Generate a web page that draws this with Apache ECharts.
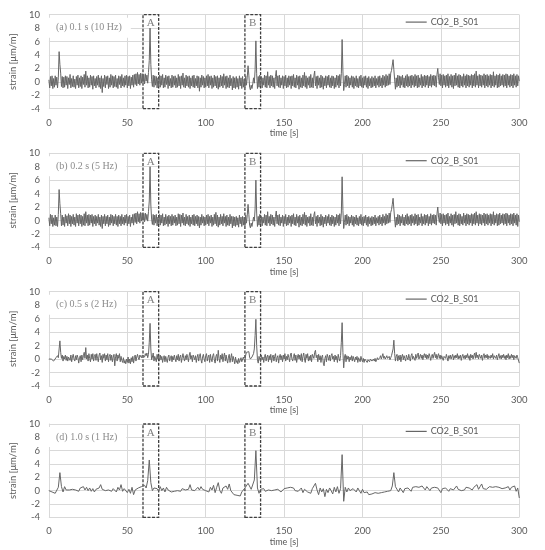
<!DOCTYPE html>
<html><head><meta charset="utf-8">
<script src="https://cdn.jsdelivr.net/npm/echarts@6/dist/echarts.min.js"></script>
<style>html,body{margin:0;padding:0;background:#fff}#c{width:545px;height:550px}</style>
</head><body><div id="c"></div>
<script>
const seriesName = 'CO2_B_S01';
const panelLabels = ['(a) 0.1 s (10 Hz)', '(b) 0.2 s (5 Hz)', '(c) 0.5 s (2 Hz)', '(d) 1.0 s (1 Hz)'];
const sampleStep = [0.5, 0.5, 0.5, 1];
const xMin = 0, xMax = 300, xInterval = 50;
const yMin = -4, yMax = 10, yInterval = 2;
const xName = 'time [s]';
const yName = 'strain [\u03bcm/m]';
const boxA = ['A', 60, 70];
const boxB = ['B', 125, 135];

// panel (a) values every 0.5 s
const strainA = [
0.3,-0.9,0.8,-0.6,0.9,-1.0,0.5,-0.8,0.9,-0.5,0.7,-0.9,0.6,4.5,2.6,1.3,-0.7,0.8,-0.9,0.7,
-0.8,0.9,-0.5,0.8,-1.0,0.6,-0.4,1.1,-0.9,0.5,-0.7,0.9,-0.8,0.4,-1.0,0.8,-0.5,1.0,-0.9,0.6,
-0.7,0.9,-1.0,0.7,-0.4,1.1,-0.8,1.6,-0.5,0.9,-0.9,0.6,-0.8,1.0,-0.5,0.8,-1.1,0.9,-0.6,0.5,
-0.9,0.8,-0.5,1.0,-0.8,0.6,-1.0,0.9,-1.6,0.5,-0.7,1.0,-0.9,0.8,-0.4,0.9,-1.0,0.6,-0.8,1.1,
-0.5,0.9,-0.9,0.8,-0.7,1.0,-0.8,0.5,-1.0,0.9,-0.4,0.8,-0.9,1.1,-0.6,0.6,-0.8,0.9,-0.5,1.0,
-0.9,0.8,-0.6,0.9,-1.0,0.7,-0.5,1.0,-0.8,1.1,-0.4,1.2,-0.6,1.4,-0.3,1.1,-0.5,1.3,-0.2,1.2,
-0.1,1.1,-0.3,1.2,0.1,1.0,-0.2,1.4,3.2,8.0,2.6,0.3,-0.7,1.0,-0.8,0.9,-0.5,0.8,-0.9,0.6,
-0.7,1.0,-0.8,0.9,-0.5,1.1,-0.9,0.6,-0.8,1.0,-0.4,0.8,-1.0,0.9,-0.6,0.5,-0.9,1.0,-0.8,0.8,
-0.5,0.9,-0.9,0.6,-0.8,1.1,-0.6,0.8,-1.0,0.9,-0.5,1.3,-0.8,0.6,-0.9,1.0,-0.6,0.8,-0.8,0.9,
-1.0,0.6,-0.6,0.9,-0.8,1.0,-0.9,0.5,-0.6,0.9,-0.9,0.8,-1.4,0.6,-0.8,1.0,-0.5,0.8,-0.9,0.6,
-0.8,0.9,-0.6,1.1,-0.9,0.8,-0.5,0.9,-1.0,0.6,-0.8,1.0,-0.6,0.8,-0.9,0.9,-1.1,0.6,-0.8,1.0,
-0.6,0.8,-0.9,1.2,-0.5,0.8,-1.0,0.9,-0.8,0.6,-0.9,1.0,-0.6,0.5,-1.2,0.8,-0.9,0.6,-1.0,0.8,
-0.8,0.5,-1.1,0.9,-0.6,0.6,-1.0,0.8,-0.8,0.4,-0.9,0.9,-0.5,0.7,2.4,1.0,-0.8,-1.2,-0.5,-1.0,
-0.3,0.6,-0.2,1.8,6.1,1.2,-1.0,0.8,-0.8,1.0,-0.6,0.8,-0.9,0.6,-0.5,1.0,-0.8,0.9,-0.9,1.5,
-0.5,0.8,-0.9,1.0,-0.6,0.9,-0.8,0.6,-1.0,0.8,1.7,-0.6,0.9,-0.8,1.0,-0.9,0.6,-0.5,0.9,-1.0,
0.8,-0.6,1.0,-0.9,0.6,-0.8,0.9,-0.5,0.8,-1.0,0.9,-0.6,1.1,-0.8,0.6,-0.9,1.0,-0.5,0.8,-1.1,
0.9,-0.8,0.6,-0.9,1.0,-0.6,1.4,-0.8,0.9,-1.0,0.6,-0.5,0.8,-0.9,1.1,-0.8,0.6,-0.9,0.9,1.6,
-0.6,0.8,-1.0,0.9,-0.5,0.6,-0.9,1.0,-0.8,0.8,-1.1,0.6,-0.6,0.9,-0.9,0.8,-0.5,1.0,-0.8,0.6,
-0.9,0.9,-0.6,0.8,-1.0,0.6,-0.8,1.0,-0.5,0.9,-0.9,1.1,-0.6,1.2,6.3,1.6,-1.3,-0.4,0.9,-0.8,
1.0,-0.6,0.8,-0.9,0.6,-0.5,0.9,-0.8,0.8,-1.0,0.6,-0.6,0.9,-0.8,0.5,-0.9,0.8,-0.6,1.0,-0.8,
0.6,-0.9,0.8,-0.5,0.9,-0.8,0.6,-1.0,0.8,-0.6,0.5,-0.9,0.8,-0.8,0.6,-0.6,0.9,-0.9,0.5,-0.5,
0.8,-0.8,0.9,-0.6,0.6,-0.9,1.0,-0.5,0.8,-0.8,1.1,-0.6,0.9,-0.5,1.2,-0.4,1.3,1.7,2.5,3.3,
1.8,0.3,-1.1,0.6,-0.8,1.0,-0.6,0.9,-0.9,0.8,-0.5,1.0,-0.8,0.6,-0.9,0.9,-0.6,1.1,-0.8,0.8,
-0.6,0.9,-0.9,1.0,-0.5,0.8,-0.8,1.1,-0.6,0.9,-0.9,1.0,-0.8,0.6,-0.5,1.1,-0.9,0.8,-0.6,1.0,
-0.8,0.9,-0.5,1.0,-0.9,0.8,-0.6,1.1,-0.8,0.9,-0.5,1.0,-0.6,0.9,-0.8,1.1,2.0,0.6,-0.4,1.2,
-0.6,1.0,-0.9,1.1,-0.5,0.9,-0.8,1.0,-0.6,1.2,-0.9,0.8,-0.5,1.1,-0.8,0.9,-1.0,1.0,-0.6,1.3,
-0.5,0.9,-0.8,1.1,-0.9,1.0,-0.6,0.8,-0.8,1.2,-0.5,0.9,-0.9,1.1,-0.6,1.0,-0.8,0.9,-0.5,1.1,
-0.9,1.0,-0.6,1.2,-0.8,1.6,-0.5,0.9,-0.9,1.1,-0.6,1.0,-0.8,0.9,-0.5,1.2,-0.9,1.0,-0.6,1.1,
-0.8,0.9,-0.5,1.1,-0.9,1.0,-0.6,1.5,-0.8,0.9,-0.5,1.1,-0.9,1.0,-0.8,1.2,-0.6,0.9,-0.5,1.1,
-0.8,1.0,-0.6,1.2,-0.9,1.1,-0.5,0.9,-0.8,1.1,-0.6,1.0,-0.9,1.2,-0.5,0.9,-0.8,1.1,-0.6,0.9,
0.1];

// panel (b) values every 0.5 s
const strainB = [
0.4,-0.8,0.9,-0.5,0.8,-0.9,0.4,-0.7,0.8,-0.8,0.5,-0.9,0.9,4.6,2.5,1.0,-0.8,0.8,-0.7,0.5,
-0.9,0.9,-0.4,0.7,-0.8,1.0,-0.5,0.8,-0.9,0.6,-0.5,0.9,-0.7,0.5,-0.9,1.0,-0.4,0.8,-0.8,0.9,
-0.5,0.8,-0.9,0.6,-0.7,1.0,-0.8,1.3,-0.4,0.8,-0.8,0.9,-0.7,0.8,-0.4,0.9,-0.9,0.6,-0.5,0.8,
-0.8,0.6,-0.4,0.9,-0.7,0.5,-0.9,0.8,-1.2,0.6,-0.5,0.9,-0.8,0.6,-0.5,0.8,-0.9,0.5,-0.7,0.9,
-0.4,0.8,-0.8,0.6,-0.5,0.9,-0.7,0.6,-0.9,0.8,-0.5,0.6,-0.8,0.9,-0.5,0.5,-0.7,0.8,-0.4,0.9,
-0.8,0.6,-0.5,0.8,-0.9,0.5,-0.4,0.9,-0.7,1.0,-0.3,1.1,-0.5,1.3,-0.2,1.0,-0.4,1.2,-0.1,1.1,
0.0,1.0,-0.2,1.1,0.1,0.9,-0.1,1.3,2.9,8.0,2.3,0.2,-0.6,0.9,-0.7,0.8,-0.4,0.9,-0.8,0.5,
-0.5,0.9,-0.7,0.8,-0.4,1.0,-0.8,0.5,-0.7,0.9,-0.5,0.6,-0.9,0.8,-0.5,0.6,-0.8,0.9,-0.7,0.6,
-0.4,0.8,-0.8,0.5,-0.7,1.0,-0.5,0.9,-0.9,0.8,-0.4,1.1,-0.7,0.5,-0.8,0.9,-0.5,0.6,-0.7,0.8,
-0.9,0.5,-0.5,0.8,-0.7,0.9,-0.8,0.6,-0.5,0.8,-0.8,0.6,-1.1,0.5,-0.7,0.9,-0.4,0.6,-0.8,0.5,
-0.7,0.8,-0.5,0.9,-0.8,0.6,-0.4,0.8,-0.9,0.5,-0.7,0.9,-0.5,1.2,-0.8,0.8,-1.0,0.5,-0.7,0.9,
-0.5,0.6,-0.8,1.0,-0.4,0.6,-0.9,0.8,-0.7,0.5,-0.8,0.9,-0.5,0.6,-1.1,0.6,-0.8,0.5,-0.9,0.6,
-0.7,0.4,-1.0,0.8,-0.5,0.5,-0.9,0.6,-0.7,0.5,-0.8,0.8,-0.4,0.8,2.4,0.9,-0.7,-1.1,-0.4,-0.9,
-0.2,0.5,-0.1,1.7,6.0,1.1,-0.9,0.6,-0.7,0.9,-0.5,0.6,-0.8,0.5,-0.4,0.9,-0.7,0.8,-0.8,1.3,
-0.4,0.6,-0.8,0.9,-0.5,0.8,-0.7,0.5,-0.9,0.6,1.4,-0.5,0.8,-0.7,0.9,-0.8,0.5,-0.4,0.8,-0.9,
0.6,-0.5,0.9,-0.8,0.5,-0.7,0.8,-0.4,0.6,-0.9,0.8,-0.5,1.0,-0.7,0.5,-0.8,0.9,-0.4,0.6,-1.0,
0.8,-0.7,0.5,-0.8,0.9,-0.5,1.2,-0.7,0.8,-0.9,0.5,-0.4,0.6,-0.8,1.0,-0.7,0.5,-0.8,0.8,1.3,
-0.5,0.6,-0.9,0.8,-0.4,0.5,-0.8,0.9,-0.7,0.6,-1.0,0.5,-0.5,0.8,-0.8,0.6,-0.4,0.9,-0.7,0.5,
-0.8,0.8,-0.5,0.6,-0.9,0.5,-0.7,0.9,-0.4,0.8,-0.8,1.0,-0.5,1.1,6.5,1.5,-1.2,-0.3,0.8,-0.7,
0.9,-0.5,0.6,-0.8,0.5,-0.4,0.8,-0.7,0.6,-0.9,0.5,-0.5,0.8,-0.7,0.4,-0.8,0.6,-0.5,0.9,-0.7,
0.5,-0.8,0.6,-0.4,0.8,-0.7,0.5,-0.9,0.6,-0.5,0.4,-0.8,0.6,-0.7,0.5,-0.5,0.8,-0.8,0.4,-0.4,
0.6,-0.7,0.8,-0.5,0.5,-0.8,0.9,-0.4,0.6,-0.7,1.0,-0.5,0.8,-0.4,1.1,-0.3,1.2,1.6,2.4,3.3,
1.7,0.2,-1.0,0.5,-0.7,0.9,-0.5,0.8,-0.8,0.6,-0.4,0.9,-0.7,0.5,-0.8,0.8,-0.5,1.0,-0.7,0.6,
-0.5,0.8,-0.8,0.9,-0.4,0.6,-0.7,1.0,-0.5,0.8,-0.8,0.9,-0.7,0.5,-0.4,1.0,-0.8,0.6,-0.5,0.9,
-0.7,0.8,-0.4,0.9,-0.8,0.6,-0.5,1.0,-0.7,0.8,-0.4,0.9,-0.5,0.8,-0.7,1.0,2.0,0.5,-0.3,1.1,
-0.5,0.9,-0.8,1.0,-0.4,0.8,-0.7,0.9,-0.5,1.1,-0.8,0.6,-0.4,1.0,-0.7,0.8,-0.9,0.9,-0.5,1.3,
-0.4,0.8,-0.7,1.0,-0.8,0.9,-0.5,0.6,-0.7,1.1,-0.4,0.8,-0.8,1.0,-0.5,0.9,-0.7,0.8,-0.4,1.0,
-0.8,0.9,-0.5,1.1,-0.7,1.3,-0.4,0.8,-0.8,1.0,-0.5,0.9,-0.7,0.8,-0.4,1.1,-0.8,0.9,-0.5,1.0,
-0.7,0.8,-0.4,1.0,-0.8,0.9,-0.5,1.3,-0.7,0.8,-0.4,1.0,-0.8,0.9,-0.7,1.1,-0.5,0.8,-0.4,1.0,
-0.7,0.9,-0.5,1.1,-0.8,1.0,-0.4,0.8,-0.7,1.0,-0.5,0.9,-0.8,1.1,-0.4,0.8,-0.7,1.0,-0.9,0.8,
-0.2];

// panel (c) values every 0.5 s
const strainC = [
0.0,0.1,-0.1,0.0,-0.2,-0.1,-0.3,-0.2,-0.1,0.2,0.0,0.5,0.2,1.5,2.7,1.0,0.1,0.6,-0.3,0.4,
0.0,0.6,-0.2,0.4,-0.3,0.3,0.5,-0.2,0.6,-0.4,0.3,0.7,0.0,-0.3,0.5,-0.1,0.6,0.2,-0.6,0.2,
0.5,-0.4,0.6,-0.1,0.5,1.0,0.1,1.7,0.0,0.6,-0.3,0.8,0.1,-0.4,0.7,0.0,0.8,-0.3,0.4,0.7,
-0.2,0.8,0.1,-0.4,0.6,0.9,-0.1,0.5,-0.5,0.7,0.1,0.8,-0.3,0.6,-0.1,0.8,-0.4,0.4,0.7,-0.2,
0.6,-0.4,0.3,0.7,-1.0,0.4,0.8,-0.3,0.6,0.1,0.8,-0.4,0.4,-0.2,-0.5,0.2,-0.6,-0.2,-0.7,0.0,
-0.5,0.3,-0.6,0.0,-0.7,0.2,-0.4,0.4,-0.6,0.2,0.6,-0.3,0.3,0.7,0.2,-0.1,0.6,0.7,0.2,0.6,
0.4,0.7,0.3,0.8,0.5,0.9,0.2,0.7,2.5,5.3,1.5,-0.1,0.3,0.9,-0.3,0.4,0.6,-0.4,0.7,0.0,
0.5,-0.3,0.6,-0.1,0.4,-0.5,0.2,0.5,-0.4,0.4,-0.1,-0.5,0.3,0.6,-0.3,0.2,0.5,-0.4,0.4,-0.1,
0.6,0.0,-0.4,0.5,-0.1,0.7,-0.3,0.3,0.6,-0.5,0.2,0.8,0.1,-0.3,0.5,-0.1,0.7,0.2,-0.4,0.6,
1.0,0.0,0.5,-0.4,0.6,0.8,-0.1,0.5,-0.5,0.3,0.7,-0.3,0.4,0.8,-0.1,-0.6,0.3,0.7,0.0,-0.4,
0.5,0.8,-0.3,0.3,0.6,-0.5,0.7,0.0,-0.4,0.5,0.8,-0.1,-0.6,0.4,0.7,-0.3,1.3,0.1,-0.5,0.6,
0.0,0.8,-0.4,0.4,0.9,-0.3,0.6,-0.1,-0.6,0.3,0.7,-0.5,0.2,0.8,-0.4,0.4,-0.1,-0.7,0.3,-0.5,
-0.2,-0.7,0.1,-0.5,-0.6,0.2,-0.4,-0.5,0.3,-0.1,-0.4,0.6,1.0,1.2,1.0,1.1,0.3,0.0,-0.1,0.3,
0.5,0.8,1.5,3.5,5.9,2.0,-0.1,-0.6,0.4,0.0,-0.4,0.6,-0.1,0.3,-0.5,0.4,0.7,-0.3,0.3,0.6,
-0.4,0.5,-0.1,0.7,-0.5,0.3,0.6,-0.3,0.4,0.8,-0.4,0.2,0.5,-0.6,0.3,0.7,-0.1,0.5,-0.4,0.6,
0.0,0.8,-0.3,0.4,-0.1,0.7,0.2,-0.4,0.6,0.9,0.0,-0.3,0.4,0.8,-0.2,0.6,-0.5,0.3,0.7,0.0,
0.6,-0.2,0.8,-0.4,0.4,0.9,0.0,-0.5,0.7,0.1,0.8,-0.3,0.4,-0.2,0.6,-0.4,0.7,0.9,0.1,1.0,
1.3,0.2,0.6,-0.4,0.7,-0.1,0.5,-0.5,0.3,0.6,-0.6,-1.0,0.1,0.5,-0.4,0.7,0.3,-0.2,0.6,-0.3,
0.5,0.8,0.0,0.4,-0.4,0.6,-0.1,0.4,-0.5,0.7,0.1,-0.3,0.5,2.5,5.4,1.0,-1.3,0.3,0.7,-0.4,
0.5,0.0,0.4,-0.4,0.3,-0.1,0.5,-0.3,0.4,0.0,-0.4,0.3,-0.1,0.4,-0.5,0.2,0.3,-0.4,0.4,-0.1,
-0.4,0.1,-0.5,0.0,-0.2,0.2,-0.5,-0.1,0.1,-0.4,0.0,0.2,-0.3,-0.5,0.0,-0.3,0.1,-0.4,-0.1,0.2,
-0.1,-0.3,0.2,0.5,0.0,-0.1,0.8,0.1,0.4,0.0,-0.1,0.5,0.1,0.0,0.4,-0.1,0.2,0.5,0.7,1.5,
2.8,0.8,-0.3,0.4,0.7,-0.3,0.5,-0.1,0.6,-0.4,0.4,0.7,-0.1,0.5,0.1,-0.3,0.6,0.2,-0.1,0.7,
0.1,-0.3,0.5,0.8,0.0,0.4,0.6,-0.2,0.7,0.1,0.5,0.9,0.0,0.4,0.7,0.1,0.6,-0.1,0.5,0.8,
0.2,0.7,0.0,0.6,0.1,0.8,0.4,-0.2,0.4,0.7,0.1,0.6,1.0,0.2,0.7,0.0,0.5,0.8,0.1,0.6,
0.0,0.5,0.7,-0.2,0.4,0.6,0.1,0.7,0.2,-0.3,0.5,0.1,0.6,0.0,0.4,0.7,-0.1,0.5,0.1,0.6,
0.2,0.8,0.0,0.5,0.1,0.6,-0.2,0.4,0.7,0.1,0.5,0.0,0.6,0.2,0.8,0.1,0.5,-0.2,0.7,0.2,
0.6,0.0,0.5,0.9,0.1,1.0,0.2,0.6,0.0,0.7,0.4,0.1,0.6,-0.2,0.5,0.8,0.1,0.6,0.2,0.7,
0.0,0.5,0.7,0.1,0.6,0.2,0.8,0.0,0.5,0.7,0.1,0.6,-0.1,0.4,0.8,0.1,0.5,0.0,0.6,0.2,
0.7,0.1,0.5,-0.1,0.6,0.2,0.8,0.0,0.5,0.1,0.7,0.2,0.6,-0.1,0.5,0.7,0.1,0.6,0.2,0.4,
-0.6];

// panel (d) values every 1 s
const strainD = [
0.0,0.1,-0.2,-0.3,-0.4,-0.2,0.5,2.7,0.6,-0.2,
0.6,0.1,0.2,0.1,0.3,0.2,0.4,0.1,0.3,-0.1,
0.4,0.2,0.6,0.1,0.5,0.0,0.4,-0.1,0.3,-0.2,
0.2,0.1,0.4,0.9,0.2,0.5,0.0,0.3,0.1,0.4,
-0.1,0.3,0.2,-0.2,0.5,0.1,0.9,-0.1,0.3,0.0,
-0.3,0.2,-0.4,0.5,-0.6,0.1,-0.2,0.4,0.3,0.6,
0.5,0.8,0.4,1.5,4.6,1.2,0.0,0.4,0.1,0.3,
-0.1,0.6,0.0,0.4,-0.2,0.5,0.1,-0.1,-0.2,0.0,
-0.1,0.1,0.0,0.2,-0.1,0.3,0.0,0.1,0.3,0.2,
0.9,0.1,0.4,0.0,0.3,0.5,0.1,0.6,0.2,0.4,
0.0,0.3,-0.2,0.5,0.1,0.8,-0.3,0.5,1.2,0.0,
-0.4,0.4,0.1,0.7,0.2,1.0,0.0,-0.2,-0.6,-0.3,
-0.7,-0.4,-0.8,-0.2,-0.5,0.4,0.6,1.1,0.9,0.2,
0.3,1.6,6.0,0.4,-0.4,0.2,0.0,0.3,-0.1,0.2,
0.1,-0.2,0.0,0.3,0.1,-0.1,0.2,0.0,-0.2,0.1,
0.3,0.0,0.4,0.1,0.5,0.2,0.4,0.0,0.3,-0.1,
0.2,0.4,-0.3,0.2,0.0,-0.2,0.1,-0.4,0.3,0.2,
1.1,0.1,-0.6,0.4,-0.2,0.3,-0.9,0.2,-0.3,0.4,
0.0,-0.5,0.5,-0.2,0.6,-0.4,0.3,5.4,-1.6,0.5,
-0.2,0.4,0.0,-0.3,0.3,0.1,-0.2,0.4,0.0,-0.4,
0.2,-0.3,-0.5,-0.2,-0.6,-0.3,-0.5,-0.4,-0.3,-0.2,
-0.4,-0.1,-0.3,0.0,-0.2,0.1,-0.1,0.2,0.0,0.7,
2.7,0.6,0.3,-0.2,0.4,0.1,-0.3,0.3,0.0,0.4,
0.2,-0.1,0.5,0.2,0.6,0.3,0.5,0.2,0.7,0.4,
0.1,0.6,0.3,0.0,0.4,0.2,0.5,0.7,0.4,0.6,
-0.3,0.3,0.0,0.4,0.2,-0.1,0.3,0.5,0.1,0.4,
0.7,0.2,0.5,0.0,0.3,0.1,0.5,0.2,0.4,0.6,
0.1,0.5,0.3,0.9,0.2,0.6,1.0,0.3,0.5,0.2,
0.4,0.6,0.3,0.5,0.4,0.6,0.3,0.5,0.2,0.3,
0.0,0.4,0.2,0.6,0.1,0.5,0.2,0.7,-0.1,0.4,
-1.1];

const allValues = [strainA, strainB, strainC, strainD];
const gridTops = [14.7, 153.3, 291.7, 424];
const gridHeights = [94, 94, 94.3, 93.3];
const gridLeft = 46.3, gridWidth = 473;

const labelColor = '#595959';
const gridColor = '#d9d9d9';
const lineColor = '#666666';
const sansFont = 'Lato, "Liberation Sans", sans-serif';
const serifFont = '"Liberation Serif", "DejaVu Serif", serif';

const option = {
  animation: false,
  backgroundColor: '#fff',
  grid: [], xAxis: [], yAxis: [], series: [], legend: [], title: []
};

allValues.forEach((vals, k) => {
  const top = gridTops[k];
  option.grid.push({left: gridLeft, top: top, width: gridWidth, height: gridHeights[k], containLabel: false});
  option.xAxis.push({
    type: 'value', gridIndex: k, min: xMin, max: xMax, interval: xInterval,
    name: xName, nameLocation: 'middle', nameGap: 20,
    nameTextStyle: {color: labelColor, fontSize: 9, fontFamily: sansFont},
    axisLine: {show: true, lineStyle: {color: gridColor, width: 1}},
    axisTick: {show: false},
    axisLabel: {color: labelColor, fontSize: 9.5, fontFamily: sansFont, margin: 9},
    splitLine: {show: true, lineStyle: {color: gridColor, width: 1}}
  });
  option.yAxis.push({
    type: 'value', gridIndex: k, min: yMin, max: yMax, interval: yInterval,
    name: yName, nameLocation: 'middle', nameGap: 28, nameRotate: 90,
    nameTextStyle: {color: labelColor, fontSize: 9.5, fontFamily: sansFont, padding: [0, 0, 0, 0]},
    axisLine: {show: true, lineStyle: {color: gridColor, width: 1}},
    axisTick: {show: false},
    axisLabel: {color: labelColor, fontSize: 9.5, fontFamily: sansFont, margin: 9},
    splitLine: {show: true, lineStyle: {color: gridColor, width: 1}}
  });
  const step = sampleStep[k];
  option.series.push({
    name: seriesName, type: 'line', xAxisIndex: k, yAxisIndex: k,
    data: vals.map((v, i) => [i * step, v]),
    showSymbol: false, symbol: 'none',
    lineStyle: {color: lineColor, width: 1},
    itemStyle: {color: lineColor},
    z: 3,
    markArea: {
      silent: true,
      itemStyle: {color: 'rgba(0,0,0,0)', borderColor: '#3f3f3f', borderWidth: 1.3, borderType: [3, 1.5]},
      label: {position: 'insideTop', distance: 4, color: '#808080', fontSize: 11, fontFamily: serifFont},
      data: [
        [{name: boxA[0], xAxis: boxA[1]}, {xAxis: boxA[2]}],
        [{name: boxB[0], xAxis: boxB[1]}, {xAxis: boxB[2]}]
      ]
    }
  });
  option.legend.push({
    left: 405.7, top: top + 1.4, padding: 0,
    data: [seriesName],
    icon: 'rect', itemWidth: 21, itemHeight: 1.2, itemGap: 4,
    textStyle: {color: labelColor, fontSize: 9, fontFamily: sansFont, lineHeight: 12, padding: [0, 0, 0, -1]}
  });
  option.title.push({
    text: panelLabels[k], left: 47, top: top + 3,
    padding: [5, 9, 5, 9], backgroundColor: '#fff',
    textStyle: {color: '#8c8c8c', fontSize: 10, fontWeight: 'normal', fontFamily: serifFont}
  });
});

const chart = echarts.init(document.getElementById('c'), null, {renderer: 'canvas'});
chart.setOption(option);
</script>
</body></html>
